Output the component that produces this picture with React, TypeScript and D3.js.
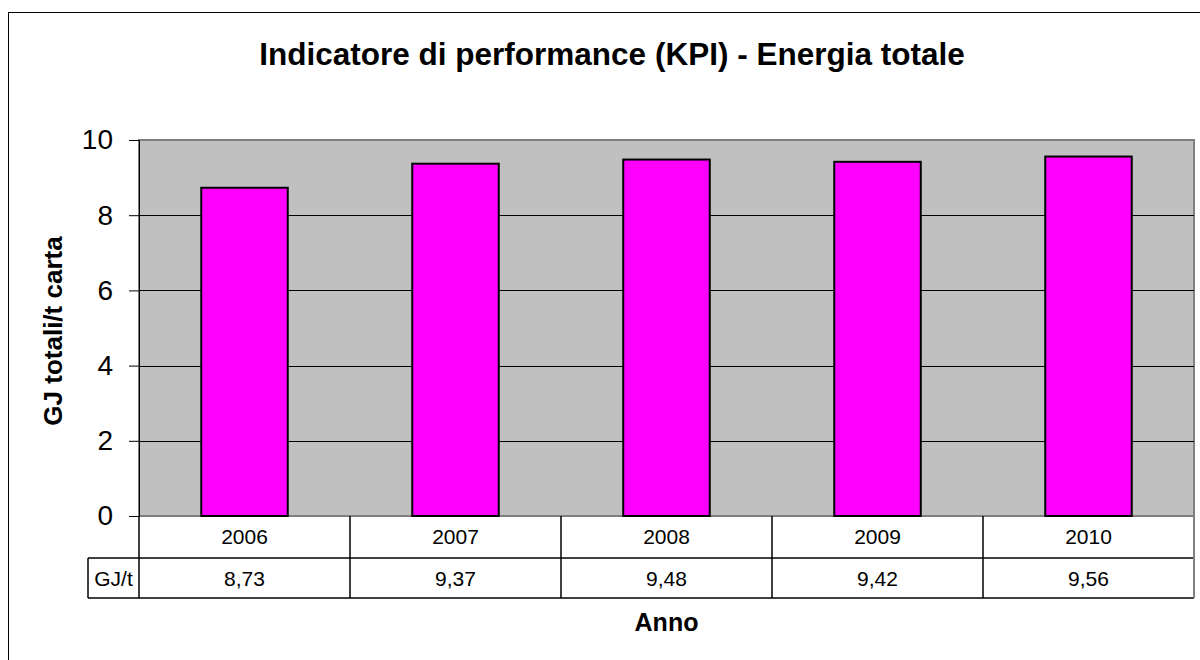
import React, { useRef, useEffect } from 'react';
import * as d3 from 'd3';

// chart data
const years = ['2006', '2007', '2008', '2009', '2010'];
const values = [8.73, 9.37, 9.48, 9.42, 9.56];
const yTicks = [0, 2, 4, 6, 8, 10];
const seriesName = 'GJ/t';

const W = 1200;
const H = 660;
const FONT = '"Liberation Sans", Arial, sans-serif';

const App = () => {
  const svgRef = useRef<SVGSVGElement>(null);

  useEffect(() => {
    const svg = d3.select(svgRef.current);
    svg.selectAll('*').remove();

    const left = 139;
    const right = 1194;
    const top = 140;
    const bottom = 516;
    const row1 = 558;
    const row2 = 598;
    const legendLeft = 88;

    // outer chart border (only top/left visible in the frame)
    svg.append('rect')
      .attr('x', 8.5).attr('y', 12.5)
      .attr('width', W + 20).attr('height', H + 20)
      .attr('fill', 'white').attr('stroke', 'black').attr('stroke-width', 1);

    svg.append('text')
      .attr('x', 612).attr('y', 65)
      .attr('text-anchor', 'middle')
      .attr('font-family', FONT).attr('font-weight', 'bold').attr('font-size', 31.5)
      .text('Indicatore di performance (KPI) - Energia totale');

    const x = d3.scaleBand<string>().domain(years).range([left, right]);
    const y = d3.scaleLinear().domain([0, 10]).range([bottom, top]);

    // plot area
    svg.append('rect')
      .attr('x', left).attr('y', top)
      .attr('width', right - left).attr('height', bottom - top)
      .attr('fill', '#c0c0c0').attr('stroke', '#808080').attr('stroke-width', 2);

    // gridlines
    svg.append('g').selectAll('line')
      .data(yTicks.filter(t => t > 0 && t < 10))
      .join('line')
      .attr('x1', left).attr('x2', right)
      .attr('y1', d => Math.round(y(d)) + 0.5).attr('y2', d => Math.round(y(d)) + 0.5)
      .attr('stroke', 'black').attr('stroke-width', 1);

    // y axis
    const yAxis = d3.axisLeft(y).tickValues(yTicks).tickSize(10).tickPadding(16)
      .tickFormat(d => String(d));
    const ga = svg.append('g').attr('transform', `translate(${left},0)`).call(yAxis);
    ga.select('.domain').attr('stroke', 'black').attr('stroke-width', 1);
    ga.selectAll('text').attr('font-family', FONT).attr('font-size', 28).attr('fill', 'black');
    ga.selectAll('line').attr('stroke', 'black');

    // bars
    const barW = x.bandwidth() * 0.41;
    svg.append('g').selectAll('rect')
      .data(values)
      .join('rect')
      .attr('x', (_, i) => (x(years[i]) as number) + (x.bandwidth() - barW) / 2)
      .attr('y', d => y(d))
      .attr('width', barW)
      .attr('height', d => bottom - y(d))
      .attr('fill', '#ff00ff').attr('stroke', 'black').attr('stroke-width', 2);

    // data table
    const tbl = svg.append('g').attr('stroke', 'black').attr('stroke-width', 1.5).attr('fill', 'none');
    tbl.append('line').attr('x1', left).attr('x2', left).attr('y1', bottom).attr('y2', row2);
    tbl.append('line').attr('x1', legendLeft).attr('x2', right).attr('y1', row1).attr('y2', row1);
    tbl.append('line').attr('x1', legendLeft).attr('x2', right).attr('y1', row2).attr('y2', row2);
    tbl.append('line').attr('x1', legendLeft).attr('x2', legendLeft).attr('y1', row1).attr('y2', row2);
    tbl.append('line').attr('x1', right).attr('x2', right).attr('y1', bottom).attr('y2', row2).attr('stroke', '#808080').attr('stroke-width', 2);
    tbl.selectAll('.sep')
      .data(years.slice(1))
      .join('line')
      .attr('class', 'sep')
      .attr('x1', d => x(d) as number).attr('x2', d => x(d) as number)
      .attr('y1', bottom).attr('y2', row2);

    const cellText = svg.append('g')
      .attr('font-family', FONT).attr('font-size', 21).attr('text-anchor', 'middle');
    cellText.selectAll('.yr')
      .data(years)
      .join('text')
      .attr('class', 'yr')
      .attr('x', d => (x(d) as number) + x.bandwidth() / 2)
      .attr('y', 543.5)
      .text(d => d);
    cellText.selectAll('.val')
      .data(values)
      .join('text')
      .attr('class', 'val')
      .attr('x', (_, i) => (x(years[i]) as number) + x.bandwidth() / 2)
      .attr('y', 586)
      .text(d => d.toFixed(2).replace('.', ','));
    cellText.append('text')
      .attr('x', (legendLeft + left) / 2)
      .attr('y', 586)
      .text(seriesName);

    // axis titles
    svg.append('text')
      .attr('x', (left + right) / 2).attr('y', 631)
      .attr('text-anchor', 'middle')
      .attr('font-family', FONT).attr('font-weight', 'bold').attr('font-size', 25)
      .text('Anno');

    svg.append('text')
      .attr('transform', 'translate(62,331) rotate(-90)')
      .attr('text-anchor', 'middle')
      .attr('font-family', FONT).attr('font-weight', 'bold').attr('font-size', 26)
      .text('GJ totali/t carta');
  }, []);

  return (
    <svg ref={svgRef} width={W} height={H}
      style={{ position: 'absolute', left: 0, top: 0, background: 'white' }} />
  );
};

export default App;
